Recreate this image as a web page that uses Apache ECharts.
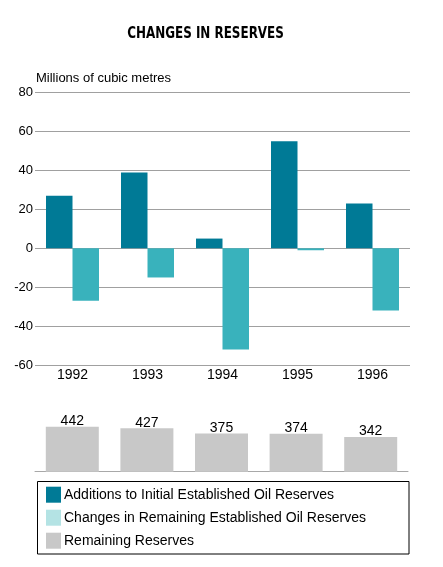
<!DOCTYPE html>
<html>
<head>
<meta charset="utf-8">
<script src="https://cdn.jsdelivr.net/npm/echarts@6/dist/echarts.min.js"></script>
<style>
html,body{margin:0;padding:0;background:#fff;}
#chart{width:443px;height:567px;}
</style>
</head>
<body>
<div id="chart"></div>
<script>
var years = ['1992', '1993', '1994', '1995', '1996'];
var additions = [27, 39, 5, 55, 23];
var changesRemaining = [-27, -15, -52, -1, -32];
var remaining = [442, 427, 375, 374, 342];
var yTicks = {min: -60, max: 80, interval: 20};

var DARK = '#007A96', LIGHT = '#39B2BC', LIGHT_LEGEND = '#B4E3E4', GRAY = '#C8C8C8';
var FONT = '"Liberation Sans", Arial, Helvetica, sans-serif';

var chart = echarts.init(document.getElementById('chart'), null, {renderer: 'canvas'});
chart.setOption({
  animation: false,
  backgroundColor: '#fff',
  textStyle: {fontFamily: FONT, color: '#000'},
  grid: [
    {left: 35, right: 33, top: 92.7, height: 272.3, containLabel: false},
    {left: 35, right: 35, top: 420.8, height: 50.9, containLabel: false}
  ],
  xAxis: [
    {type: 'category', gridIndex: 0, data: years,
     axisLine: {show: false}, axisTick: {show: false},
     axisLabel: {fontSize: 14, color: '#000', margin: 3, fontFamily: FONT}},
    {type: 'category', gridIndex: 1, data: years,
     axisLine: {show: true, lineStyle: {color: '#A8A8A8', width: 1}}, axisTick: {show: false},
     axisLabel: {show: false}}
  ],
  yAxis: [
    {type: 'value', gridIndex: 0, min: yTicks.min, max: yTicks.max, interval: yTicks.interval,
     name: 'Millions of cubic metres', nameLocation: 'end', nameGap: 8,
     nameTextStyle: {align: 'left', fontSize: 13, color: '#000', fontFamily: FONT, padding: [0, 0, 0, 1]},
     axisLine: {show: false}, axisTick: {show: false},
     axisLabel: {fontSize: 13, color: '#000', margin: 2, fontFamily: FONT},
     splitLine: {lineStyle: {color: '#A0A0A0', width: 1}}},
    {type: 'value', gridIndex: 1, min: 0, max: 500, show: false, splitLine: {show: false}}
  ],
  legend: {
    orient: 'vertical', left: 46, top: 486.7, padding: 0,
    itemWidth: 15, itemHeight: 16, itemGap: 7,
    icon: 'rect',
    textStyle: {fontSize: 14, color: '#000', fontFamily: FONT, padding: [0, 0, 0, -2]},
    data: [
      {name: 'Additions to Initial Established Oil Reserves'},
      {name: 'Changes in Remaining Established Oil Reserves', itemStyle: {color: LIGHT_LEGEND}},
      {name: 'Remaining Reserves'}
    ]
  },
  graphic: [
    {type: 'text', x: 205.5, y: 34, scaleX: 0.83, silent: true,
     style: {text: 'CHANGES IN RESERVES', textAlign: 'center', textVerticalAlign: 'middle',
             font: 'bold 16px "DejaVu Sans Condensed", "Liberation Sans", sans-serif', fill: '#000'}},
    {type: 'rect', shape: {x: 37.5, y: 481.5, width: 371.5, height: 72.5},
     style: {fill: 'none', stroke: '#000', lineWidth: 1}, silent: true}
  ],
  series: [
    {name: 'Additions to Initial Established Oil Reserves', type: 'bar', xAxisIndex: 0, yAxisIndex: 0,
     data: additions, barWidth: 26.5, barGap: '0%', itemStyle: {color: DARK}},
    {name: 'Changes in Remaining Established Oil Reserves', type: 'bar', xAxisIndex: 0, yAxisIndex: 0,
     data: changesRemaining, barWidth: 26.5, barGap: '0%', itemStyle: {color: LIGHT}},
    {name: 'Remaining Reserves', type: 'bar', xAxisIndex: 1, yAxisIndex: 1,
     data: remaining, barWidth: 53, itemStyle: {color: GRAY},
     label: {show: true, position: 'top', distance: -1.5, fontSize: 14, color: '#000', fontFamily: FONT}}
  ]
});
</script>
</body>
</html>
